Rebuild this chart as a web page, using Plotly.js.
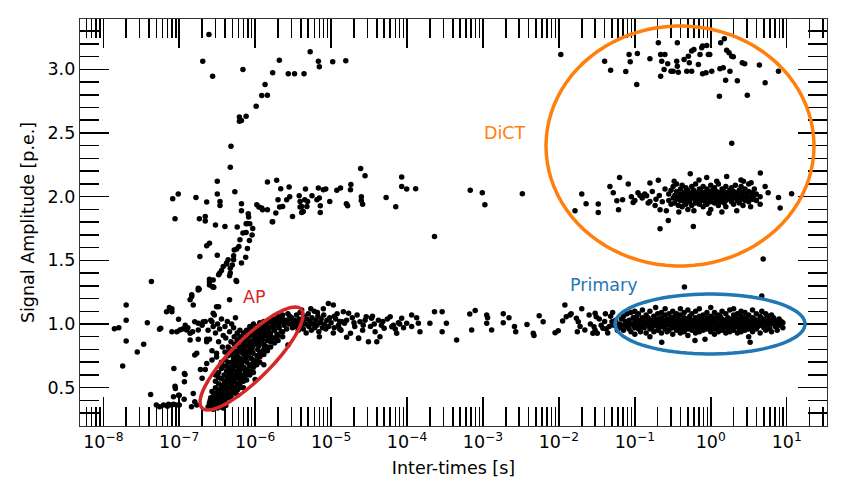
<!DOCTYPE html>
<html><head><meta charset="utf-8">
<script src="https://cdn.plot.ly/plotly-3.0.1.min.js"></script>
<style>html,body{margin:0;padding:0;background:#fff}#chart{width:847px;height:497px}</style>
</head><body><div id="chart"></div>
<script>
// ---------------- DATA ----------------
const xTickVals = [1e-8,1e-7,1e-6,1e-5,1e-4,1e-3,1e-2,1e-1,1,10];
const xTickText = ['10<sup>−8</sup>','10<sup>−7</sup>','10<sup>−6</sup>','10<sup>−5</sup>','10<sup>−4</sup>','10<sup>−3</sup>','10<sup>−2</sup>','10<sup>−1</sup>','10<sup>0</sup>','10<sup>1</sup>'];
const yTickVals = [0.5,1.0,1.5,2.0,2.5,3.0];

// afterpulse cluster (dense diagonal band)
const apPts = [[2.4e-7,0.35],[2.5e-7,0.38],[2.6e-7,0.34],[2.6e-7,0.42],[2.7e-7,0.36],[2.7e-7,0.47],[2.8e-7,0.33],[2.8e-7,0.40],[2.9e-7,0.37],[2.9e-7,0.44],[3.0e-7,0.35],[3.0e-7,0.50],[3.1e-7,0.39],[3.1e-7,0.46],[3.2e-7,0.34],[3.2e-7,0.42],[3.3e-7,0.37],[3.3e-7,0.53],[3.4e-7,0.45],[3.4e-7,0.40],[3.5e-7,0.35],[3.5e-7,0.49],[3.6e-7,0.43],[3.6e-7,0.57],[3.7e-7,0.38],[3.7e-7,0.47],[3.8e-7,0.52],[3.8e-7,0.34],[3.9e-7,0.44],[3.9e-7,0.60],[4.0e-7,0.49],[4.0e-7,0.40],[4.1e-7,0.55],[4.1e-7,0.36],[4.2e-7,0.46],[4.2e-7,0.63],[4.3e-7,0.51],[4.4e-7,0.42],[4.4e-7,0.58],[4.5e-7,0.48],[4.5e-7,0.66],[4.6e-7,0.54],[4.7e-7,0.45],[4.7e-7,0.61],[4.8e-7,0.52],[4.9e-7,0.57],[4.9e-7,0.70],[5.0e-7,0.48],[5.0e-7,0.64],[5.2e-7,0.55],[5.2e-7,0.73],[5.3e-7,0.60],[5.4e-7,0.50],[5.4e-7,0.67],[5.6e-7,0.58],[5.6e-7,0.76],[5.7e-7,0.63],[5.8e-7,0.53],[5.8e-7,0.70],[6.0e-7,0.61],[6.0e-7,0.79],[6.1e-7,0.66],[6.2e-7,0.57],[6.3e-7,0.73],[6.4e-7,0.64],[6.4e-7,0.82],[6.6e-7,0.69],[6.7e-7,0.60],[6.8e-7,0.77],[6.9e-7,0.71],[7.0e-7,0.85],[7.1e-7,0.66],[7.2e-7,0.80],[7.3e-7,0.74],[7.5e-7,0.62],[7.5e-7,0.87],[7.7e-7,0.78],[7.8e-7,0.70],[8.0e-7,0.83],[8.1e-7,0.75],[8.2e-7,0.90],[8.4e-7,0.67],[8.5e-7,0.80],[8.7e-7,0.86],[8.9e-7,0.73],[9.0e-7,0.92],[9.2e-7,0.82],[9.4e-7,0.77],[9.6e-7,0.88],[9.8e-7,0.95],[1.0e-6,0.84],[1.0e-6,0.71],[1.05e-6,0.90],[1.08e-6,0.80],[1.1e-6,0.97],[1.13e-6,0.86],[1.16e-6,0.92],[1.2e-6,0.76],[1.23e-6,0.99],[1.26e-6,0.88],[1.3e-6,0.94],[1.33e-6,0.83],[1.37e-6,1.00],[1.4e-6,0.91],[1.45e-6,0.96],[1.5e-6,0.87],[1.55e-6,1.02],[1.6e-6,0.93],[1.65e-6,0.98],[1.7e-6,0.89],[1.75e-6,1.04],[1.8e-6,0.95],[1.87e-6,1.00],[1.94e-6,0.92],[2.0e-6,1.06],[2.07e-6,0.97],[2.15e-6,1.02],[2.2e-6,0.94],[2.3e-6,1.07],[2.4e-6,0.99],[2.5e-6,1.03],[2.6e-6,0.96],[2.7e-6,1.08],[2.8e-6,1.00],[2.95e-6,1.04],[3.1e-6,0.97],[3.2e-6,1.01],
[2.55e-7,0.40],[2.75e-7,0.39],[2.85e-7,0.45],[3.05e-7,0.42],[3.15e-7,0.36],[3.25e-7,0.48],[3.45e-7,0.38],[3.55e-7,0.44],[3.65e-7,0.51],[3.85e-7,0.41],[3.95e-7,0.54],[4.05e-7,0.45],[4.25e-7,0.57],[4.35e-7,0.47],[4.55e-7,0.60],[4.65e-7,0.50],[4.85e-7,0.63],[4.95e-7,0.53],[5.1e-7,0.67],[5.3e-7,0.56],[5.5e-7,0.71],[5.7e-7,0.59],[5.9e-7,0.74],[6.1e-7,0.62],[6.3e-7,0.78],[6.5e-7,0.67],[6.7e-7,0.81],[6.9e-7,0.65],[7.1e-7,0.77],[7.4e-7,0.83],[7.6e-7,0.72],[7.9e-7,0.86],[8.3e-7,0.78],[8.6e-7,0.93],[8.8e-7,0.84],[9.1e-7,0.79],[9.5e-7,0.91],[9.9e-7,0.86],[1.03e-6,0.94],[1.07e-6,0.88],[1.12e-6,0.83],[1.18e-6,0.95],[1.22e-6,0.90],[1.28e-6,0.97],[1.35e-6,0.93],[1.42e-6,0.99],[1.48e-6,0.94],[1.58e-6,0.97],[1.68e-6,1.01],[1.78e-6,0.98],[1.9e-6,1.03],[2.05e-6,1.00],[2.25e-6,1.05],[2.45e-6,1.01],[2.65e-6,1.03],[2.85e-6,1.06],
[3.0e-7,0.55],[3.0e-7,0.60],[3.3e-7,0.62],[3.3e-7,0.58],[3.6e-7,0.66],[3.6e-7,0.70],[4.0e-7,0.72],[4.0e-7,0.67],[4.0e-7,0.78],[4.4e-7,0.75],[4.4e-7,0.82],[4.4e-7,0.70],[4.8e-7,0.80],[4.8e-7,0.86],[4.8e-7,0.76],[4.8e-7,0.43],[5.3e-7,0.84],[5.3e-7,0.90],[5.3e-7,0.79],[5.3e-7,0.46],[5.8e-7,0.87],[5.8e-7,0.93],[5.8e-7,0.83],[5.8e-7,0.48],[5.8e-7,0.44],[6.3e-7,0.90],[6.3e-7,0.95],[6.3e-7,0.86],[6.3e-7,0.50],[6.3e-7,0.53],[7.0e-7,0.93],[7.0e-7,0.89],[7.0e-7,0.55],[7.0e-7,0.58],[7.0e-7,0.50],[7.7e-7,0.95],[7.7e-7,0.91],[7.7e-7,0.60],[7.7e-7,0.56],[7.7e-7,0.64],[8.5e-7,0.98],[8.5e-7,0.94],[8.5e-7,0.63],[8.5e-7,0.60],[8.5e-7,0.68],[9.5e-7,1.00],[9.5e-7,0.96],[9.5e-7,0.66],[9.5e-7,0.70],[9.5e-7,0.62],[1.05e-6,0.98],[1.05e-6,0.72],[1.05e-6,0.68],[1.05e-6,0.75],[1.15e-6,1.01],[1.15e-6,0.70],[1.15e-6,0.74],[1.15e-6,0.78],[1.3e-6,0.76],[1.3e-6,0.80],[1.3e-6,0.84],[1.3e-6,1.02],[1.45e-6,0.79],[1.45e-6,0.82],[1.45e-6,0.87],[1.6e-6,0.82],[1.6e-6,0.86],[1.6e-6,0.90],[1.8e-6,0.85],[1.8e-6,0.89],[2.0e-6,0.87],[2.0e-6,0.91],[2.3e-6,0.90],[2.3e-6,0.94],
[1.3e-6,0.68],[1.0e-6,0.565],[3.6e-7,0.65],[2.7e-6,0.835]];

// short inter-times, scattered points
const shortPts = [[1.4e-8,0.963],[1.6e-8,0.97],[2.0e-8,1.15],[2.0e-8,1.03],[2.0e-8,0.866],[1.8e-8,0.67],[3.8e-8,1.01],[3.4e-8,0.84],[2.8e-8,0.78],[4.3e-8,1.333],[4.2e-8,0.447],
[5.5e-8,0.35],[7.0e-8,0.355],[7.9e-8,0.363],[9.2e-8,0.363],[5.0e-8,0.363],[6.2e-8,0.363],[7.2e-8,0.37],[8.4e-8,0.37],[1.0e-7,0.363],[1.45e-7,0.35],[1.7e-7,0.363],[1.6e-7,0.39],
[8.9e-8,0.494],[8.5e-8,0.65],[1.17e-7,0.612],[1.17e-7,0.546],[9.8e-8,0.44],[1.16e-7,0.41],[1.53e-7,0.455],[8.4e-8,0.428],[1.0e-7,0.44],[8.8e-8,0.512],[1.19e-7,0.604],
[8.0e-8,0.94],[9.3e-8,0.94],[1.02e-7,0.953],[1.25e-7,0.953],[1.39e-7,0.927],[1.78e-7,0.953],[1.6e-7,1.018],[1.78e-7,1.005],[2.07e-7,1.018],[2.3e-7,0.88],[1.78e-7,0.88],[1.39e-7,0.874],[9.8e-8,1.037],[7.4e-8,1.13],[8.0e-8,1.097],[5.7e-8,0.966],[5.5e-8,0.958],[6.8e-8,1.097],[1.39e-7,1.19],[1.53e-7,1.15],[1.46e-7,1.23],[1.78e-7,1.28],[2.5e-7,1.33],[2.8e-7,1.29],[3.1e-7,1.136],[2.8e-7,1.084],[2.7e-7,1.018],[1.7e-7,0.77],[1.6e-7,0.756],[1.9e-7,0.643],[2.2e-7,0.643],[2.0e-7,0.573],[2.3e-7,0.69],[3.1e-7,0.77],[2.7e-7,0.717],
[1.46e-7,1.215],[1.78e-7,1.267],[8.0e-8,1.12],[3.3e-7,1.136],[4.6e-7,1.19],[1.1e-7,0.96],[1.2e-7,0.99],[1.3e-7,0.97],[1.5e-7,0.94],
[2.0e-7,0.99],[2.2e-7,1.02],[2.4e-7,0.95],[2.6e-7,1.03],[2.8e-7,0.98],[3.0e-7,0.93],[3.2e-7,1.00],[3.4e-7,0.96],[3.6e-7,1.04],[3.8e-7,0.91],[4.0e-7,0.98],[4.3e-7,1.02],[4.6e-7,0.94],[4.9e-7,1.00],[5.2e-7,0.97],[5.5e-7,1.05],[2.5e-7,0.88],[3.3e-7,0.86],[4.1e-7,0.89],[2.9e-7,1.07],[3.7e-7,0.82],[4.4e-7,0.78],[3.1e-7,0.74],[2.7e-7,0.79],[2.3e-7,0.86]];

// the 1 p.e. band at intermediate inter-times
const bandPts = [[3.3e-6,1.03],[3.4e-6,0.98],[3.5e-6,1.07],[3.6e-6,1.01],[3.7e-6,0.95],[3.8e-6,1.04],[3.9e-6,1.09],[4.0e-6,0.99],[4.2e-6,1.02],[4.3e-6,0.96],[4.4e-6,1.06],[4.6e-6,1.00],[4.7e-6,0.93],[4.8e-6,1.04],[5.0e-6,1.08],[5.1e-6,0.98],[5.3e-6,1.02],[5.5e-6,0.95],[5.6e-6,1.05],[5.8e-6,1.00],[6.0e-6,1.10],[6.1e-6,0.97],[6.3e-6,1.03],[6.5e-6,0.99],[6.7e-6,1.06],[6.9e-6,0.94],[7.0e-6,0.90],[7.2e-6,1.01],[7.4e-6,1.04],[7.7e-6,0.97],[8.0e-6,1.07],[8.2e-6,1.00],[8.5e-6,0.96],[8.8e-6,1.03],[9.2e-6,1.16],[9.3e-6,0.98],[9.6e-6,1.05],[1.0e-5,1.01],[1.07e-5,1.15],[1.07e-5,0.93],[1.1e-5,0.97],[1.15e-5,1.04],[1.2e-5,1.08],[1.25e-5,0.99],[1.3e-5,1.02],[1.35e-5,0.95],[3.0e-6,1.05],[3.15e-6,0.99],[4.1e-6,1.11],[5.4e-6,1.12],[6.6e-6,1.09],[7.9e-6,1.12],[1.6e-5,0.895],[2.3e-5,0.89],
[1.45e-5,1.097],[1.7e-5,1.084],[2.2e-5,1.07],[2.9e-5,1.057],[3.4e-5,1.045],[1.8e-5,0.927],[2.3e-5,0.887],[3.1e-5,0.86],[4.0e-5,0.86],[4.4e-5,0.9],[6.0e-5,1.057],[6.3e-5,0.979],[7.3e-5,0.927],[1.15e-4,1.07],[1.34e-4,1.05],[1.41e-4,1.005],[1.48e-4,0.94],[2.0e-4,1.005],[2.3e-4,1.097],[2.9e-4,1.097],[2.9e-4,0.94],[3.3e-4,1.005],[4.5e-4,0.874],[6.7e-4,1.079],[7.9e-4,1.105],[7.1e-4,0.953],[1.12e-3,1.07],[1.15e-3,1.05],[1.12e-3,1.005],[1.3e-3,0.953],[1.85e-3,1.08],[2.2e-3,1.05],[1.85e-3,1.01],[2.6e-3,0.98],[2.7e-3,0.94],[3.8e-3,0.997],[4.6e-3,0.927],[4.7e-3,0.91],[5.5e-3,1.065],[6.2e-3,1.018],[8.9e-3,0.932],[9.8e-3,0.947],[1.12e-2,1.024],[1.2e-2,1.15],[1.25e-2,1.057],[1.4e-2,1.07],[1.45e-2,1.08],[1.7e-2,1.045],[1.8e-2,1.018],[1.75e-2,0.94],[1.9e-2,0.98],[2.0e-2,1.12],[2.5e-2,1.07],[2.2e-2,0.953],[3.0e-2,1.084],[3.1e-2,1.057],[2.9e-2,0.979],[2.8e-2,0.927],[3.2e-2,0.927],[3.8e-2,0.966],[4.2e-2,0.96],[4.6e-2,0.98],[5.0e-2,1.018],
[1.4e-5,1.018],[1.5e-5,1.005],[1.6e-5,1.03],[2.0e-5,1.01],[2.05e-5,0.98],[2.4e-5,1.018],[2.65e-5,0.99],[2.8e-5,1.03],[3.3e-5,0.98],[3.7e-5,1.0],[3.8e-5,0.94],[4.6e-5,0.99],[5.0e-5,0.966],[4.8e-5,1.02],[6.6e-5,0.99],[7.7e-5,1.01],[8.5e-5,1.045],[9.9e-5,1.005],[1.15e-4,0.98],
[2.6e-2,1.0],[3.0e-2,0.95],[3.4e-2,1.04],[3.6e-2,0.99],[4.0e-2,1.02],[4.4e-2,0.93],[4.8e-2,1.06],[5.3e-2,0.99],[5.6e-2,1.03],[5.9e-2,0.95],[5.1e-2,1.09],[4.1e-2,1.08],
[1.1e-5,1.06],[1.3e-5,0.96],[1.9e-5,1.05],[2.6e-5,0.95],[3.5e-5,1.06],[4.2e-5,1.03],[5.5e-5,1.04],[7.0e-5,0.96],[8.0e-5,1.0],[9.0e-5,0.97]];

// primary signals
const primaryPts = [[0.063,1.00],[0.063,0.97],[0.067,1.04],[0.071,0.99],[0.071,1.06],[0.071,0.95],[0.075,1.02],[0.079,0.98],[0.079,1.08],[0.079,1.01],[0.084,0.96],[0.084,1.03],[0.089,1.00],[0.089,1.09],[0.089,0.94],[0.095,1.05],[0.095,0.99],[0.10,1.02],[0.10,0.97],[0.10,1.10],[0.10,0.92],[0.106,1.00],[0.106,1.06],[0.112,0.96],[0.112,1.03],[0.112,1.08],[0.112,0.99],[0.119,1.01],[0.119,0.94],[0.126,1.05],[0.126,0.98],[0.126,1.11],[0.126,1.02],[0.133,0.97],[0.133,1.04],[0.141,1.00],[0.141,0.93],[0.141,1.07],[0.141,1.02],[0.15,0.99],[0.15,1.05],[0.158,1.03],[0.158,0.96],[0.158,1.10],[0.158,0.90],[0.158,1.00],[0.168,1.02],[0.168,0.97],[0.178,1.06],[0.178,0.99],[0.178,0.94],[0.178,1.03],[0.188,1.01],[0.188,1.13],[0.2,0.98],[0.2,1.04],[0.2,0.95],[0.2,1.08],[0.2,1.00],[0.21,1.02],[0.21,0.97],[0.224,1.05],[0.224,0.93],[0.224,1.00],[0.224,1.09],[0.226,0.856],[0.237,0.98],[0.237,1.03],[0.251,1.01],[0.251,0.96],[0.251,1.07],[0.251,0.99],[0.251,1.12],[0.266,1.04],[0.266,0.94],[0.282,0.99],[0.282,1.02],[0.282,1.08],[0.282,0.95],[0.30,1.00],[0.30,1.05],[0.316,0.97],[0.316,1.03],[0.316,1.10],[0.316,0.92],[0.316,1.01],[0.335,0.99],[0.335,1.06],[0.355,1.02],[0.355,0.95],[0.355,1.08],[0.355,0.98],[0.375,1.04],[0.375,1.00],[0.398,0.96],[0.398,1.01],[0.398,1.07],[0.398,0.93],[0.398,1.12],[0.42,0.99],[0.42,1.03],[0.447,1.00],[0.447,1.05],[0.447,0.94],[0.447,1.09],[0.447,0.97],[0.45,1.29],[0.47,1.02],[0.47,0.98],[0.50,1.04],[0.50,0.96],[0.50,1.00],[0.50,1.11],[0.50,0.91],[0.53,1.01],[0.53,1.06],[0.562,0.98],[0.562,1.03],[0.562,0.95],[0.562,1.08],[0.562,1.00],[0.595,1.02],[0.595,0.97],[0.62,0.87],[0.631,1.05],[0.631,0.99],[0.631,1.01],[0.631,0.93],[0.631,1.10],[0.67,1.03],[0.67,0.96],[0.708,1.00],[0.708,1.06],[0.708,0.98],[0.708,1.12],[0.708,0.94],[0.75,1.02],[0.75,1.04],[0.794,0.97],[0.794,1.01],[0.794,1.07],[0.794,0.95],[0.794,1.03],[0.84,0.99],[0.84,0.88],[0.891,1.05],[0.891,1.00],[0.891,0.96],[0.891,1.09],[0.891,1.02],[0.94,0.98],[0.94,1.04],[1.0,1.01],[1.0,0.94],[1.0,1.06],[1.0,0.99],[1.0,1.13],[1.0,0.97],[1.06,1.03],[1.06,1.00],[1.12,0.96],[1.12,1.05],[1.12,1.02],[1.12,1.09],[1.12,0.92],[1.19,0.99],[1.19,1.04],[1.26,1.01],[1.26,0.97],[1.26,1.07],[1.26,1.03],[1.26,0.94],[1.33,1.00],[1.33,1.06],[1.41,0.98],[1.41,1.02],[1.41,1.10],[1.41,0.95],[1.41,1.04],[1.5,1.01],[1.5,0.97],[1.58,1.03],[1.58,0.99],[1.58,1.08],[1.58,0.93],[1.58,1.00],[1.68,1.05],[1.68,0.96],[1.78,1.00],[1.78,1.02],[1.78,0.94],[1.78,1.11],[1.78,0.98],[1.88,1.04],[1.88,1.01],[2.0,0.97],[2.0,1.03],[2.0,1.07],[2.0,0.99],[2.0,1.12],[2.0,0.95],[2.11,1.01],[2.11,1.05],[2.24,0.98],[2.24,1.02],[2.24,0.93],[2.24,1.08],[2.24,1.00],[2.37,1.04],[2.37,0.96],[2.51,1.01],[2.51,0.99],[2.51,1.06],[2.51,0.94],[2.51,1.10],[2.66,1.03],[2.66,0.97],[2.82,1.00],[2.82,1.05],[2.82,0.95],[2.82,1.02],[2.82,1.09],[3.0,0.98],[3.0,1.04],[3.16,1.01],[3.16,0.96],[3.16,1.07],[3.16,0.99],[3.16,0.90],[3.3,0.856],[3.35,1.03],[3.35,1.00],[3.55,0.97],[3.55,1.05],[3.55,1.02],[3.55,1.11],[3.55,0.94],[3.75,0.99],[3.75,1.04],[3.98,1.01],[3.98,0.96],[3.98,1.08],[3.98,1.00],[4.2,1.03],[4.2,0.98],[4.47,1.06],[4.47,0.99],[4.47,0.93],[4.47,1.02],[4.7,1.00],[4.7,1.10],[4.7,1.22],[4.9,1.51],[5.01,0.97],[5.01,1.04],[5.01,1.01],[5.3,1.08],[5.3,0.95],[5.62,1.02],[5.62,0.99],[5.62,1.06],[6.0,0.96],[6.0,1.03],[6.31,1.00],[6.31,1.07],[6.31,0.94],[6.7,1.02],[6.7,1.05],[7.08,0.98],[7.08,1.03],[7.5,1.01],[7.5,0.95],[7.94,1.04],[7.94,0.99],[8.5,1.02],[8.91,0.97],[8.91,1.01]];

// two-photon (2 p.e.) band: crosstalk region
const dict2Pts = [[6.8e-4,2.05],[9.8e-4,2.03],[1.06e-3,1.936],[3.3e-3,2.023],[2.3e-4,1.687],[0.0163,1.889],[0.02,2.02],[0.0228,1.944],[0.033,1.942],[0.033,1.876],[0.047,2.08],[0.052,2.03],[0.063,2.151],[0.061,1.897],[0.058,1.968],[0.069,1.976],[0.082,2.10],[0.095,1.954],[0.117,2.01],[0.143,2.007],[0.158,2.107],[0.158,1.962],[0.204,2.128],[0.215,1.897],[0.215,1.747],[0.276,1.813],[0.537,2.18],[0.59,1.766],[0.885,2.151],[1.62,2.159],[2.7,2.12],[4.5,2.186],[5.2,2.08],[5.7,2.03],[7.8,1.994],[8.2,1.91],[11.6,2.023],
[0.09,2.0],[0.1,1.97],[0.11,2.03],[0.125,1.99],[0.135,2.02],[0.15,1.95],[0.17,2.04],[0.19,1.98],[0.21,2.01],[0.23,1.96],[0.25,2.06],[0.185,1.93],
[0.28,2.02],[0.28,1.97],[0.30,2.05],[0.30,1.94],[0.32,1.99],[0.32,2.08],[0.335,2.01],[0.335,1.95],[0.355,2.04],[0.355,1.98],[0.355,2.10],[0.375,1.93],[0.375,2.00],[0.40,2.06],[0.40,1.97],[0.40,2.02],[0.42,1.99],[0.42,2.09],[0.42,1.92],[0.447,2.03],[0.447,1.96],[0.447,2.00],[0.47,2.07],[0.47,1.94],[0.50,2.01],[0.50,1.98],[0.50,2.05],[0.50,1.90],[0.53,2.03],[0.53,1.96],[0.562,1.99],[0.562,2.08],[0.562,2.02],[0.562,1.93],[0.595,2.00],[0.595,2.05],[0.631,1.97],[0.631,2.03],[0.631,1.95],[0.631,2.10],[0.67,2.01],[0.67,1.98],[0.708,2.06],[0.708,1.94],[0.708,2.02],[0.708,2.00],[0.75,1.97],[0.75,2.04],[0.794,2.01],[0.794,1.92],[0.794,2.08],[0.794,1.99],[0.84,2.03],[0.84,1.96],[0.891,2.00],[0.891,2.06],[0.891,1.94],[0.891,2.02],[0.94,1.98],[0.94,2.04],[1.0,2.01],[1.0,1.96],[1.0,2.09],[1.0,2.03],[1.0,1.90],[1.06,1.99],[1.06,2.05],[1.12,2.02],[1.12,1.95],[1.12,2.07],[1.12,2.00],[1.19,1.97],[1.19,2.04],[1.26,2.01],[1.26,2.10],[1.26,1.93],[1.26,1.99],[1.33,2.03],[1.33,1.96],[1.41,2.00],[1.41,2.06],[1.41,1.98],[1.41,2.02],[1.5,1.95],[1.5,2.04],[1.58,2.01],[1.58,2.08],[1.58,1.97],[1.58,1.92],[1.68,2.03],[1.68,2.00],[1.78,1.98],[1.78,2.05],[1.78,2.02],[1.88,1.96],[1.88,2.07],[2.0,2.01],[2.0,1.99],[2.0,2.04],[2.0,1.94],[2.11,2.03],[2.11,2.09],[2.24,1.97],[2.24,2.02],[2.24,2.00],[2.37,2.05],[2.37,1.95],[2.51,2.01],[2.51,1.98],[2.51,2.08],[2.66,2.03],[2.66,1.93],[2.82,2.00],[2.82,2.06],[2.82,1.97],[3.0,2.02],[3.0,1.99],[3.16,2.04],[3.16,1.96],[3.16,2.10],[3.35,2.00],[3.35,1.92],[3.55,2.03],[3.55,1.98],[3.75,2.01],[3.75,2.06],[3.98,1.97],[3.98,2.02],[4.47,2.00],[4.47,1.94],[1.89,2.42],
[0.26,1.89],[0.38,1.88],[0.6,1.89],[0.95,1.87],[1.4,1.88],[2.2,1.89],[0.33,2.12],[0.7,2.13],[1.2,2.12],[2.5,2.13],[3.4,2.11]];

// three-photon (3 p.e.) group
const dict3Pts = [[0.0106,3.117],[0.04,3.064],[0.048,2.993],[0.076,2.983],[0.084,3.117],[0.087,3.059],[0.108,3.124],[0.106,2.88],[0.158,3.083],[0.204,3.208],[0.219,3.117],[0.249,3.117],[0.226,3.064],[0.271,3.043],[0.219,2.946],[0.243,2.998],[0.30,2.985],[0.32,2.985],[0.356,3.064],[0.363,3.024],[0.363,3.208],[0.374,2.977],[0.445,3.077],[0.507,3.103],[0.522,3.051],[0.483,2.985],[0.56,2.985],[0.56,3.143],[0.60,3.156],[0.687,3.038],[0.722,3.117],[0.76,3.169],[0.78,3.182],[0.885,3.187],[0.93,3.117],[0.97,3.117],[0.78,2.965],[0.867,2.972],[1.03,2.985],[1.32,3.004],[1.46,3.012],[1.3,2.788],[1.57,2.914],[1.79,2.985],[1.62,3.15],[1.74,3.13],[1.89,3.103],[1.98,3.098],[1.35,3.208],[1.51,3.24],[2.24,2.91],[2.6,3.051],[2.8,3.043],[3.03,2.796],[4.37,3.033],[5.2,2.894],[7.8,2.985]];

// rising streak at short inter-times (2 and 3 p.e.)
const streakPts = [[2.46e-7,3.274],[2.04e-7,3.064],[2.75e-7,2.946],[6.9e-7,2.998],[2.08e-6,3.072],[1.7e-6,2.972],[1.35e-6,2.88],[1.22e-6,2.794],[1.45e-6,2.796],[1.03e-6,2.71],[6.2e-7,2.626],[7.6e-7,2.631],[6.2e-7,2.592],[6.6e-7,2.597],[4.8e-7,2.395],[4.7e-7,2.23],[2.73e-6,2.965],[3.3e-6,2.965],[4.4e-6,2.965],[5.3e-6,3.138],[6.8e-6,3.064],[7.0e-6,3.02],[1.05e-5,3.059],[1.56e-5,3.067],
[8.2e-8,1.983],[9.7e-8,2.02],[8.8e-8,1.826],[1.66e-7,1.994],[1.84e-7,1.826],[2.2e-7,1.844],[2.2e-7,1.808],[2.3e-7,1.957],[3.17e-7,2.12],[3.17e-7,2.02],[3.44e-7,1.962],[3.44e-7,1.93],[3.0e-7,1.777],[4.0e-7,1.766],[5.4e-7,2.039],[6.6e-7,1.944],[6.6e-7,1.889],[5.8e-7,1.761],[8.1e-7,1.865],[8.2e-7,1.84],[7.8e-7,1.79],[7.6e-7,1.787],[8.5e-7,1.787],[9.3e-7,1.75],[9.1e-7,1.698],[6.9e-7,1.714],[7.6e-7,1.718],[6.3e-7,1.661],[8.4e-7,1.655],[5.7e-7,1.588],[5.3e-7,1.582],[6.1e-7,1.608],[7.9e-7,1.592],[5.2e-7,1.535],[7.5e-7,1.525],[6.6e-7,1.478],[4.4e-7,1.504],[5.0e-7,1.464],[4.7e-7,1.438],[4.2e-7,1.472],[3.8e-7,1.451],[3.6e-7,1.42],[3.4e-7,1.399],[3.3e-7,1.386],[4.6e-7,1.378],[5.6e-7,1.341],[2.5e-7,1.352],[2.75e-7,1.293],[2.85e-7,1.289],[1.87e-7,1.53],[2.3e-7,1.614],[2.5e-7,1.635],[1.83e-7,1.273],[3.17e-7,1.54],[2.8e-7,1.346],[2.5e-7,1.307],[4.2e-7,1.478],[5.2e-7,1.504],[4.7e-7,1.4],[5.7e-7,1.333],
[1.45e-6,2.115],[1.92e-6,2.128],[2.17e-6,2.062],[2.0e-6,1.976],[2.6e-6,1.976],[2.85e-6,2.0],[2.8e-6,2.076],[2.1e-6,1.918],[2.3e-6,1.923],[1.87e-6,1.871],[1.68e-6,1.803],[3.1e-6,1.844],[1.22e-6,1.91],[1.45e-6,1.897],[1.25e-6,1.897],[1.05e-6,1.936],[1.12e-6,1.918],[3.8e-6,2.007],[3.9e-6,1.962],[4.1e-6,1.923],[4.3e-6,1.884],[4.5e-6,1.976],[4.9e-6,1.962],[4.8e-6,1.923],[3.9e-6,1.918],[4.1e-6,1.876],[5.6e-6,2.007],[6.5e-6,1.976],[7.0e-6,1.99],[7.2e-6,1.928],[7.2e-6,1.876],[4.6e-6,2.06],[6.8e-6,2.068],[7.9e-6,2.054],[8.5e-6,2.06],[9.6e-6,1.962],[1.19e-5,2.05],[1.33e-5,2.068],[1.59e-5,1.944],[1.65e-5,1.928],[1.82e-5,2.096],[2.45e-5,2.222],[2.8e-5,2.164],[2.5e-5,2.0],[2.5e-5,1.97],[2.6e-5,1.94],[1.7e-6,1.803],[1.8e-5,2.054],[5.3e-5,1.994],[7.1e-5,1.92],[8.5e-5,2.154],[8.5e-5,2.08],[9.9e-5,2.06],[1.3e-4,2.062]];

// ---------------- CHART ----------------
const W = 847, H = 497;
const M = {l:80, r:20, t:19, b:71};
const PW = W - M.l - M.r, PH = H - M.t - M.b;
const xRange = [-8.307, 1.531];
const yRange = [0.199, 3.395];
const FS = 17.5;

const groups = [apPts, shortPts, bandPts, primaryPts, dict2Pts, dict3Pts, streakPts];
const traces = groups.map(g => ({
  type:'scatter', mode:'markers',
  x: g.map(p => p[0]), y: g.map(p => p[1]),
  marker:{color:'#000', size:5.5, line:{width:0}},
  hoverinfo:'x+y', showlegend:false
}));

// ellipse outlines, given in plot pixels (center, semi-axes, tilt) -> paper coords
function ellipsePath(cx, cy, rx, ry, angDeg){
  const a = angDeg*Math.PI/180, n = 90;
  let d = '';
  for(let i=0;i<=n;i++){
    const t = 2*Math.PI*i/n;
    const ex = rx*Math.cos(t), ey = ry*Math.sin(t);
    const px = cx + ex*Math.cos(a) + ey*Math.sin(a);
    const py = cy - ex*Math.sin(a) + ey*Math.cos(a);
    const fx = (px - M.l)/PW, fy = (H - M.b - py)/PH;
    d += (i===0?'M':'L') + fx.toFixed(5) + ',' + fy.toFixed(5);
  }
  return d + 'Z';
}
const shapes = [
  {type:'path', xref:'paper', yref:'paper', path: ellipsePath(251.5,358.5,70,20,45), line:{color:'#d62728', width:3.5}},
  {type:'path', xref:'paper', yref:'paper', path: ellipsePath(710,324,95,30,0), line:{color:'#1f77b4', width:3.5}},
  {type:'path', xref:'paper', yref:'paper', path: ellipsePath(680,146,134,120,0), line:{color:'#ff7f0e', width:3.5}}
];
function pap(px,py){ return {x:(px-M.l)/PW, y:(H-M.b-py)/PH}; }
function label(text, color, px, py){
  return Object.assign({text:text, xref:'paper', yref:'paper', xanchor:'center', yanchor:'middle', showarrow:false,
    font:{family:'DejaVu Sans', size:FS, color:color}}, pap(px,py));
}
const annotations = [
  label('AP', '#d62728', 254, 297),
  label('Primary', '#1f77b4', 604, 285),
  label('DiCT', '#ff7f0e', 505, 133)
];

const axCommon = {
  ticks:'inside', ticklen:29, tickwidth:1.5, tickcolor:'#000',
  showline:true, linecolor:'#333', linewidth:1.2, mirror:'allticks',
  showgrid:false, zeroline:false, automargin:false,
  tickfont:{family:'DejaVu Sans', size:FS, color:'#000'}
};
const layout = {
  width:W, height:H, margin:Object.assign({pad:0}, M),
  paper_bgcolor:'#fff', plot_bgcolor:'#fff', showlegend:false,
  font:{family:'DejaVu Sans', size:FS, color:'#000'},
  xaxis: Object.assign({}, axCommon, {
    type:'log', range:xRange, tickmode:'array', tickvals:xTickVals, ticktext:xTickText,
    minor:{ticks:'inside', ticklen:19, tickwidth:1.5, tickcolor:'#000', dtick:'D1', showgrid:false},
    title:{text:'Inter-times [s]', font:{family:'DejaVu Sans', size:FS}, standoff:10}
  }),
  yaxis: Object.assign({}, axCommon, {
    range:yRange, tickmode:'array', tickvals:yTickVals, tickformat:'.1f',
    minor:{ticks:'inside', ticklen:19, tickwidth:1.5, tickcolor:'#000', dtick:0.1, showgrid:false},
    title:{text:'Signal Amplitude [p.e.]', font:{family:'DejaVu Sans', size:FS}, standoff:8}
  }),
  shapes: shapes, annotations: annotations
};
Plotly.newPlot('chart', traces, layout, {displayModeBar:false, staticPlot:true});
</script></body></html>
